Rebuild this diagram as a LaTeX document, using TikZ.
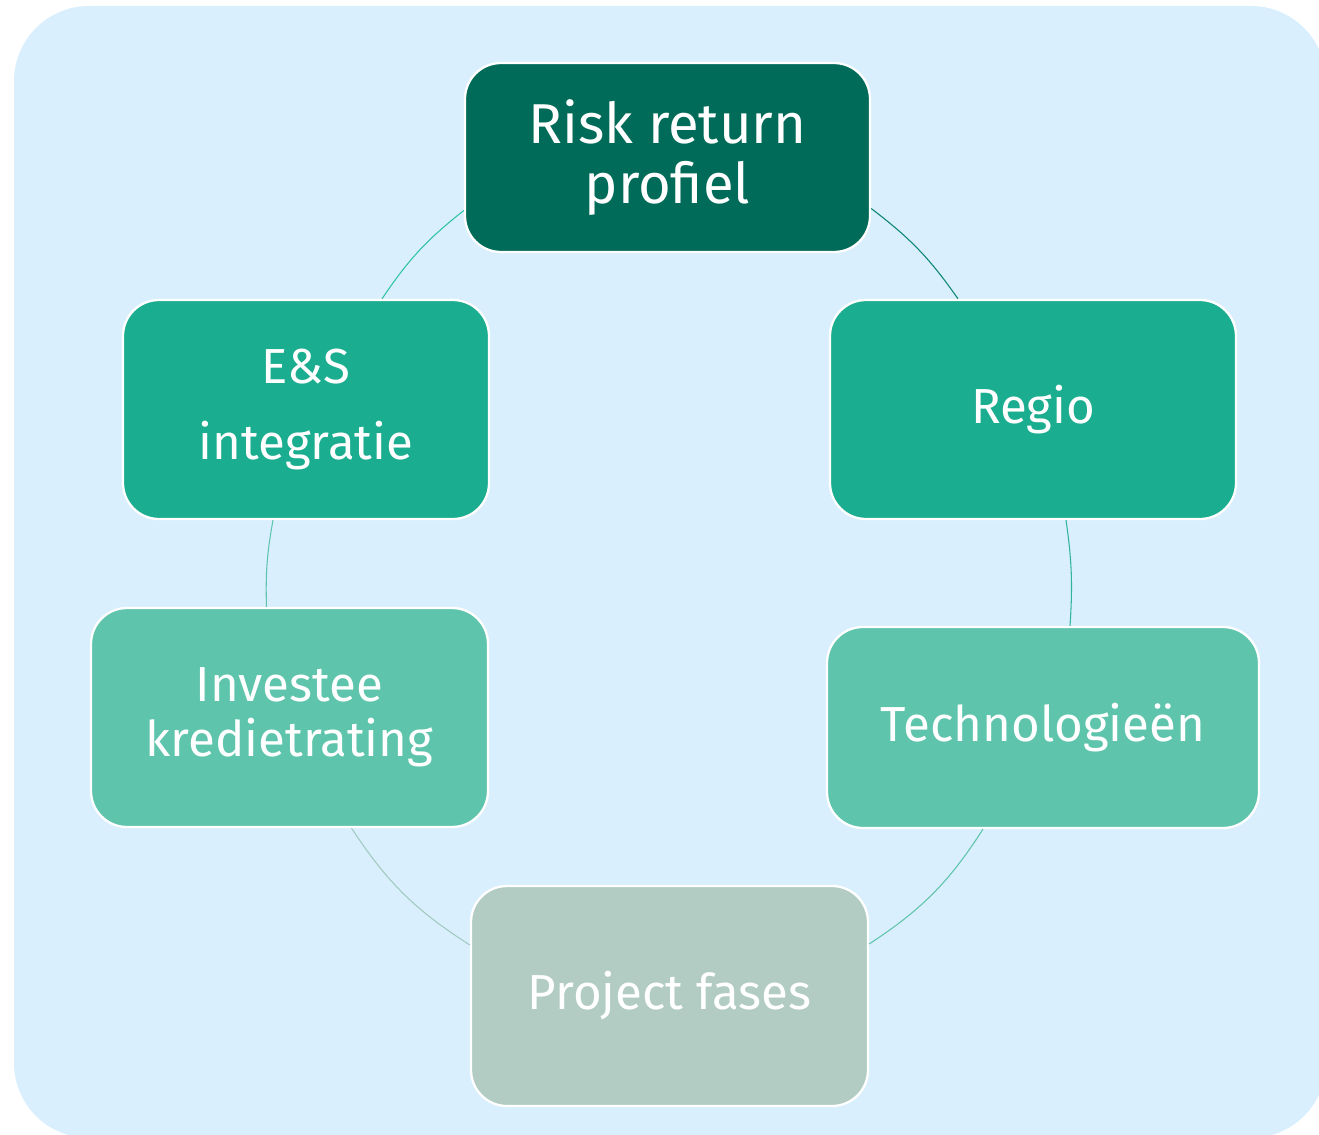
\documentclass[tikz,border=0pt]{standalone}
\usepackage{fontspec}
\setmainfont{Fira Sans}
\newlength{\du}
\setlength{\du}{0.02cm}
\definecolor{bgcolor}{HTML}{D9EFFD}
\definecolor{riskcolor}{HTML}{006B58}
\definecolor{midcolor}{HTML}{1AAD8F}
\definecolor{lightcolor}{HTML}{5EC4AC}
\definecolor{greycolor}{HTML}{B2CCC3}
\definecolor{arccolor}{HTML}{2EC4A0}
\tikzset{
  cyclebox/.style={draw=white, line width=1.3pt, rounded corners=36\du,
    text=white, align=center, inner sep=0pt},
  cyclelink/.style={line width=0.6pt},
}
\begin{document}
\begin{tikzpicture}
\useasboundingbox (0,0) rectangle (1319\du,-1135\du);
\clip (0,0) rectangle (1319\du,-1135\du);
% background
\fill[bgcolor, rounded corners=75\du] (14\du,-6\du) rectangle (1326\du,-1138\du);
% boxes
\node[cyclebox, fill=riskcolor, minimum width=405\du, minimum height=189\du,
  font=\fontsize{32}{34}\selectfont] (risk) at (667.5\du,-157.5\du) {Risk return\\profiel};
\node[cyclebox, fill=midcolor, minimum width=366\du, minimum height=219\du,
  font=\fontsize{28}{43}\selectfont] (esi) at (306\du,-409.5\du) {E\&S\\integratie};
\node[cyclebox, fill=midcolor, minimum width=406\du, minimum height=219\du,
  font=\fontsize{28}{31}\selectfont] (regio) at (1033\du,-409.5\du) {Regio};
\node[cyclebox, fill=lightcolor, minimum width=397\du, minimum height=219\du,
  font=\fontsize{28}{31}\selectfont] (inv) at (289.5\du,-717.5\du) {Investee\\kredietrating};
\node[cyclebox, fill=lightcolor, minimum width=432\du, minimum height=201\du,
  font=\fontsize{28}{31}\selectfont] (tech) at (1043\du,-727.5\du) {Technologieën};
\node[cyclebox, fill=greycolor, minimum width=397\du, minimum height=220\du,
  font=\fontsize{28}{31}\selectfont] (proj) at (669.5\du,-996\du) {Project fases};
% arcs
\draw[cyclelink, draw=arccolor] ([yshift=-53\du]risk.west) to[bend right=9] ([xshift=76\du]esi.north);
\draw[cyclelink, draw=riskcolor!60!midcolor] ([yshift=-51\du]risk.east) to[bend left=9] ([xshift=-75\du]regio.north);
\draw[cyclelink, draw=lightcolor] ([xshift=-33\du]esi.south) to[bend right=6] ([xshift=-23\du]inv.north);
\draw[cyclelink, draw=midcolor!70!lightcolor] ([xshift=33\du]regio.south) to[bend left=6] ([xshift=27\du]tech.north);
\draw[cyclelink, draw=greycolor!80!lightcolor] ([xshift=62\du]inv.south) to[bend right=12] ([yshift=51\du]proj.west);
\draw[cyclelink, draw=lightcolor] ([xshift=-60\du]tech.south) to[bend left=12] ([yshift=52\du]proj.east);
\end{tikzpicture}
\end{document}
